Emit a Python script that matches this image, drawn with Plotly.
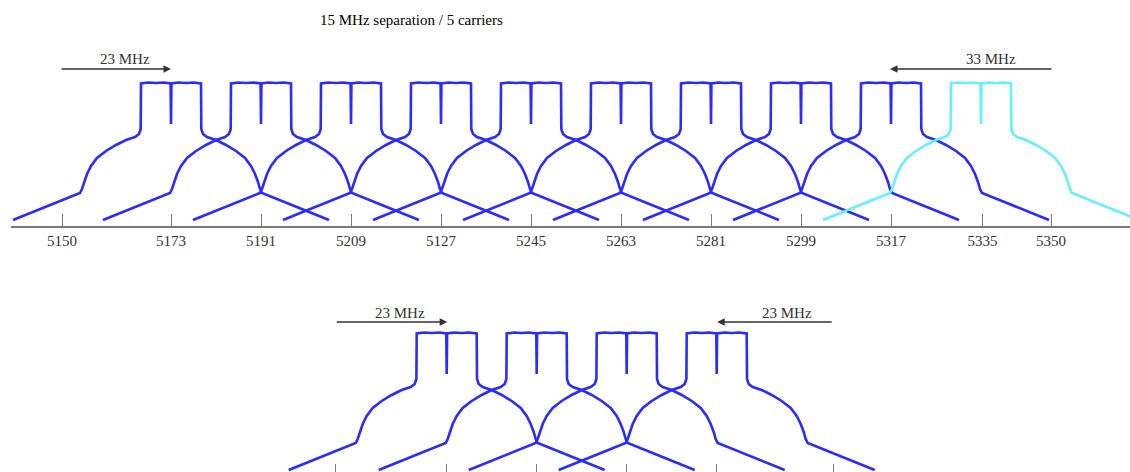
import plotly.graph_objects as go

# ---- data ----
# shape of one carrier: offset from centre (MHz) and level above the axis
profile_offset = [-31.6, -18.2, -17.8, -17.4, -16.8, -16.0, -14.8, -13.0, -11.0, -9.0, -7.2, -6.4, -6.06,
                  -6.0, -4.5, -3.0, -1.5, -0.08, 0.0, 0.08, 1.5, 3.0, 4.5, 6.0,
                  6.06, 6.4, 7.2, 9.0, 11.0, 13.0, 14.8, 16.0, 16.8, 17.4, 17.8, 18.2, 31.6]
profile_level = [6, 33, 37, 44, 52, 60, 68, 75, 81, 86, 89, 92, 97,
                 142.5, 143.5, 143, 143.5, 142.5, 102, 142.5, 143.5, 143, 143.5, 142.5,
                 97, 92, 89, 86, 81, 75, 68, 60, 52, 44, 37, 33, 6]

top_blue_centres = [5173, 5191, 5209, 5227, 5245, 5263, 5281, 5299, 5317]
top_cyan_centres = [5335]
bottom_centres = [5173, 5191, 5209, 5227]

top_tick_pos = [5151.2, 5173, 5191, 5209, 5227, 5245, 5263, 5281, 5299, 5317, 5335.3, 5349]
top_tick_text = ["5150", "5173", "5191", "5209", "5127", "5245", "5263", "5281", "5299", "5317", "5335", "5350"]
bottom_tick_pos = [5150.7, 5173, 5191, 5209, 5227, 5250.3]

title_text = "15 MHz separation / 5 carriers"

BLUE = "#2b2bff"
CYAN = "#66f0ff"
GREY = "#7a7a7a"
TXT = "#333333"
SERIF = "Liberation Serif, Times New Roman, serif"

fig = go.Figure()


def add_carrier(c, color, xa, ya):
    fig.add_trace(go.Scatter(
        x=[c + o for o in profile_offset], y=profile_level,
        mode="lines", line=dict(color=color, width=2.6),
        xaxis=xa, yaxis=ya, showlegend=False, hoverinfo="skip"))


for c in top_blue_centres:
    add_carrier(c, BLUE, "x", "y")
for c in top_cyan_centres:
    add_carrier(c, CYAN, "x", "y")
for c in bottom_centres:
    add_carrier(c, BLUE, "x2", "y2")

W, H = 1130, 472
top_axis_px = 226
fig.update_layout(
    width=W, height=H, autosize=False,
    margin=dict(l=0, r=0, t=0, b=0),
    paper_bgcolor="white", plot_bgcolor="white",
    xaxis=dict(domain=[11 / W, 1], range=[5141, 5364.8], anchor="y",
               showline=True, linecolor=GREY, linewidth=2,
               ticks="inside", ticklen=12, tickcolor=GREY, tickwidth=1,
               tickmode="array", tickvals=top_tick_pos, ticktext=top_tick_text,
               tickfont=dict(family=SERIF, size=15, color=TXT),
               showgrid=False, zeroline=False, fixedrange=True),
    yaxis=dict(domain=[(H - top_axis_px) / H, 1], range=[0, top_axis_px], anchor="x",
               visible=False, showgrid=False, zeroline=False),
    xaxis2=dict(domain=[0, 1], range=[5083.66, 5309.66], anchor="y2",
                showline=False, ticks="inside", ticklen=8, tickcolor=GREY, tickwidth=1,
                tickmode="array", tickvals=bottom_tick_pos, showticklabels=False,
                showgrid=False, zeroline=False),
    yaxis2=dict(domain=[0, (H - 262) / H], range=[4, 4 + 210], anchor="x2",
                visible=False, showgrid=False, zeroline=False),
)

ann = []
# title
ann.append(dict(text=title_text, xref="paper", yref="paper", x=411 / W, y=(H - 20) / H,
                showarrow=False, font=dict(family=SERIF, size=15, color="black"),
                xanchor="center", yanchor="middle"))
# second-row label under the axis
ann.append(dict(text="5250", xref="x", yref="y", x=5250.8, y=-27, showarrow=False,
                font=dict(family=SERIF, size=15, color=TXT), xanchor="center", yanchor="middle"))


def arrow(xref, yref, x_head, x_tail, y):
    return dict(text="", xref=xref, yref=yref, axref=xref, ayref=yref,
                x=x_head, y=y, ax=x_tail, ay=y, showarrow=True,
                arrowhead=2, arrowsize=1, arrowwidth=1.5, arrowcolor="#333333")


def label(xref, yref, x, y, t):
    return dict(text=t, xref=xref, yref=yref, x=x, y=y, showarrow=False,
                font=dict(family=SERIF, size=15, color=TXT), xanchor="center", yanchor="middle")


ann.append(arrow("x", "y", 5173, 5150.8, 157))
ann.append(label("x", "y", 5163.8, 167, "23 MHz"))
ann.append(arrow("x", "y", 5316.8, 5349.4, 157))
ann.append(label("x", "y", 5337.0, 167, "33 MHz"))
ann.append(arrow("x2", "y2", 5173.1, 5150.7, 154))
ann.append(label("x2", "y2", 5163.7, 163, "23 MHz"))
ann.append(arrow("x2", "y2", 5227.1, 5250.3, 154))
ann.append(label("x2", "y2", 5241.0, 163, "23 MHz"))
fig.update_layout(annotations=ann)

fig.write_html("out.html", config={"displayModeBar": False},
               post_script="document.body.style.margin='0px';")
